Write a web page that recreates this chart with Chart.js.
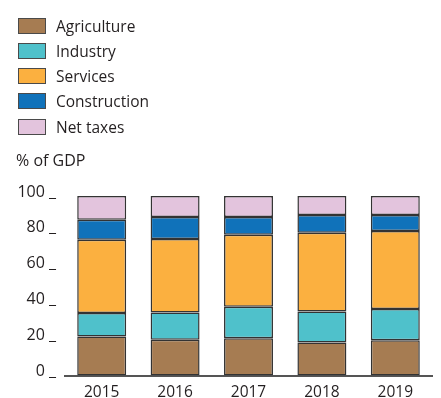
<!DOCTYPE html>
<html>
<head>
<meta charset="utf-8">
<script src="https://cdn.jsdelivr.net/npm/chart.js@4"></script>
<style>
  html, body { margin:0; padding:0; background:#fff; overflow:hidden; width:441px; height:398px; }
  #wrap { position:relative; width:441px; height:398px; overflow:hidden; font-family:"Open Sans", "Noto Sans", sans-serif; color:#231F20; }
  canvas { position:absolute; left:0; top:0; }
  .lg { position:absolute; left:18px; height:16px; display:flex; align-items:center; font-size:15.5px; white-space:nowrap; }
  .lg i { display:inline-block; width:26px; height:14px; border:1px solid #4a4a4a; margin-right:10px; box-sizing:content-box; }
  #unit { position:absolute; left:16px; top:149px; font-size:16px; }
</style>
</head>
<body>
<div id="wrap">
  <canvas id="c" width="441" height="409" style="width:441px;height:409px;"></canvas>
  <div id="legend"></div>
  <div id="unit">% of GDP</div>
</div>
<script>
const years = ["2015", "2016", "2017", "2018", "2019"];
const seriesNames = ["Agriculture", "Industry", "Services", "Construction", "Net taxes"];
const agriculture = [21.7, 19.9, 20.8, 18.4, 19.7];
const industry = [13.1, 15.2, 17.5, 17.3, 17.3];
const services = [40.8, 40.9, 40.1, 43.8, 43.5];
const construction = [11.2, 12.3, 9.9, 9.9, 8.9];
const netTaxes = [13.2, 11.7, 11.7, 10.6, 10.6];
const yTicks = [0, 20, 40, 60, 80, 100];

const colors = ["#A67C52", "#4FC1CB", "#FBB040", "#1072BA", "#E3C4DD"];
const seriesData = [agriculture, industry, services, construction, netTaxes];

// HTML legend
const legend = document.getElementById('legend');
const rowY = [18, 43, 68, 93, 119];
seriesNames.forEach((n, i) => {
  const d = document.createElement('div');
  d.className = 'lg';
  d.style.top = rowY[i] + 'px';
  d.innerHTML = '<i style="background:' + colors[i] + '"></i><span>' + n + '</span>';
  legend.appendChild(d);
});

new Chart(document.getElementById('c'), {
  type: 'bar',
  data: {
    labels: years,
    datasets: seriesNames.map((n, i) => ({
      label: n,
      data: seriesData[i],
      backgroundColor: colors[i],
      borderColor: '#333333',
      borderWidth: 1.5,
      borderSkipped: false,
      categoryPercentage: 1,
      barPercentage: 0.667
    }))
  },
  options: {
    responsive: false,
    animation: false,
    layout: { padding: { top: 196, right: 9, left: 0, bottom: 0 } },
    plugins: { legend: { display: false }, tooltip: { enabled: false } },
    scales: {
      x: {
        stacked: true,
        grid: { display: false, drawTicks: false },
        border: { display: true, color: '#555555', width: 2 },
        ticks: { color: '#231F20', padding: 9, font: { family: '"Open Sans", "Noto Sans", sans-serif', size: 15.5, lineHeight: 1 } }
      },
      y: {
        stacked: true,
        min: 0, max: 100,
        afterBuildTicks: (s) => { s.ticks = yTicks.map(v => ({ value: v })); },
        afterFit: (s) => { s.width = 65; },
        grid: { display: false, drawTicks: false },
        border: { display: false },
        ticks: {
          color: '#231F20',
          padding: 9,
          labelOffset: -4,
          font: { family: '"Open Sans", "Noto Sans", sans-serif', size: 16 },
          callback: (v) => v + ' _'
        }
      }
    }
  }
});
</script>
</body>
</html>
